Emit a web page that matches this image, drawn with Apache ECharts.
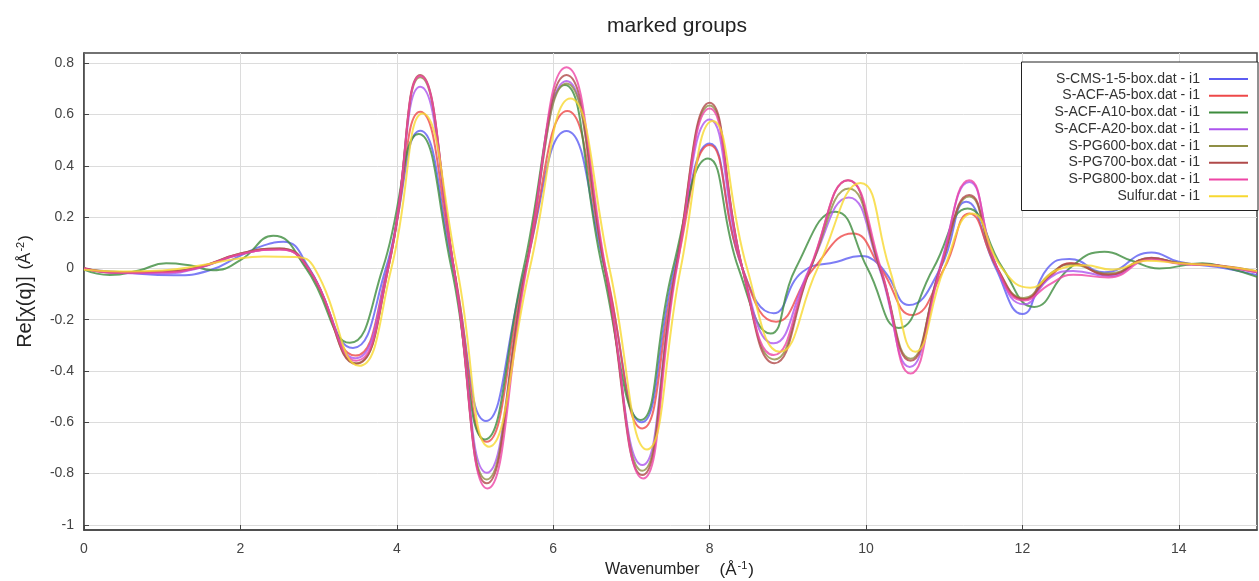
<!DOCTYPE html>
<html>
<head>
<meta charset="utf-8">
<title>marked groups</title>
<script src="https://cdn.jsdelivr.net/npm/echarts@6/dist/echarts.min.js"></script>
<style>
  html, body { margin: 0; padding: 0; background: #fff; }
  #main { width: 1259px; height: 581px; }
</style>
</head>
<body>
<div id="main"></div>
<script>
var myChart = echarts.init(document.getElementById('main'));

// tick positions
var xTicks = [0, 2, 4, 6, 8, 10, 12, 14];
var yTicks = [-1, -0.8, -0.6, -0.4, -0.2, 0, 0.2, 0.4, 0.6, 0.8];

// series names (legend order)
var names = [
	'S-CMS-1-5-box.dat - i1',
	'S-ACF-A5-box.dat - i1',
	'S-ACF-A10-box.dat - i1',
	'S-ACF-A20-box.dat - i1',
	'S-PG600-box.dat - i1',
	'S-PG700-box.dat - i1',
	'S-PG800-box.dat - i1',
	'Sulfur.dat - i1'
];
var colors = ['#5c5cf2', '#ee4848', '#3d8c3d', '#ac55ee', '#8f8f45', '#b04a4a', '#ee45a5', '#f7d830'];

// [k, Re chi(q)]
var cms15 = [[0, -0.003], [0.5, -0.015], [1.15, -0.027], [1.6, -0.008], [2.0, 0.05], [2.3, 0.09], [2.55, 0.104], [2.88, 0.0], [3.44, -0.31], [3.86, 0], [4.3, 0.537], [4.72, 0], [5.14, -0.595], [5.64, 0], [6.17, 0.536], [6.66, 0], [7.13, -0.6], [7.55, 0], [8.0, 0.487], [8.42, 0], [8.82, -0.175], [9.19, -0.013], [9.63, 0.026], [9.93, 0.048], [10.1, 0.032], [10.26, -0.02], [10.55, -0.143], [10.95, 0], [11.28, 0.26], [11.66, 0], [12.0, -0.178], [12.32, 0], [12.6, 0.037], [13.05, -0.015], [13.65, 0.062], [14.0, 0.026], [14.5, 0.005], [15.0, -0.026]];
var acfA5 = [[0, 0], [0.45, -0.018], [1.0, -0.014], [1.45, 0.003], [2.0, 0.055], [2.5, 0.075], [2.86, 0], [3.47, -0.34], [3.88, 0], [4.3, 0.611], [4.73, 0], [5.15, -0.676], [5.65, 0], [6.18, 0.614], [6.67, 0], [7.14, -0.624], [7.57, 0], [8.0, 0.481], [8.42, 0], [8.85, -0.208], [9.33, 0], [9.83, 0.136], [10.19, 0], [10.59, -0.182], [11.0, 0], [11.32, 0.214], [11.68, 0], [12.02, -0.12], [12.36, -0.03], [12.62, 0.02], [13.1, -0.025], [13.65, 0.04], [14.0, 0.02], [14.5, 0.01], [15.0, -0.015]];
var acfA10 = [[0, -0.005], [0.33, -0.026], [0.7, -0.008], [1.05, 0.02], [1.35, 0.012], [1.65, -0.007], [2.0, 0.032], [2.42, 0.127], [2.84, 0], [3.4, -0.29], [3.82, 0], [4.28, 0.524], [4.7, 0], [5.13, -0.667], [5.62, 0], [6.15, 0.715], [6.63, 0], [7.12, -0.591], [7.53, 0], [7.98, 0.429], [8.37, 0], [8.78, -0.254], [9.1, 0], [9.61, 0.221], [10.02, 0], [10.42, -0.232], [10.86, 0], [11.3, 0.234], [11.75, 0], [12.15, -0.15], [12.6, 0], [13.05, 0.065], [13.4, 0.03], [13.75, 0.0], [14.3, 0.02], [14.65, 0.0], [15.0, -0.033]];
var acfA20 = [[0, 0], [0.45, -0.018], [1.0, -0.02], [1.45, 0.0], [2.0, 0.055], [2.5, 0.075], [2.87, 0], [3.47, -0.35], [3.88, 0], [4.3, 0.708], [4.73, 0], [5.15, -0.797], [5.65, 0], [6.17, 0.731], [6.66, 0], [7.14, -0.767], [7.57, 0], [8.0, 0.581], [8.42, 0], [8.82, -0.292], [9.28, 0], [9.78, 0.277], [10.17, 0], [10.56, -0.384], [10.94, 0], [11.32, 0.337], [11.68, 0], [12.02, -0.14], [12.36, -0.035], [12.65, -0.01], [13.1, -0.03], [13.65, 0.04], [14.0, 0.02], [14.5, 0.01], [15.0, -0.015]];
var pg600 = [[0, 0], [0.45, -0.016], [1.0, -0.012], [1.45, 0.003], [2.0, 0.058], [2.5, 0.078], [2.87, 0], [3.48, -0.37], [3.89, 0], [4.3, 0.745], [4.73, 0], [5.15, -0.823], [5.65, 0], [6.17, 0.721], [6.66, 0], [7.14, -0.789], [7.57, 0], [8.0, 0.635], [8.42, 0], [8.83, -0.355], [9.29, 0], [9.78, 0.312], [10.18, 0], [10.57, -0.352], [10.95, 0], [11.32, 0.28], [11.68, 0], [12.02, -0.115], [12.36, -0.02], [12.62, 0.015], [13.1, -0.02], [13.65, 0.04], [14.0, 0.022], [14.5, 0.01], [15.0, -0.012]];
var pg700 = [[0, 0.002], [0.45, -0.015], [1.0, -0.012], [1.45, 0.004], [2.0, 0.058], [2.5, 0.078], [2.87, 0], [3.48, -0.372], [3.89, 0], [4.3, 0.754], [4.73, 0], [5.15, -0.838], [5.65, 0], [6.17, 0.754], [6.66, 0], [7.14, -0.806], [7.57, 0], [8.0, 0.646], [8.42, 0], [8.83, -0.37], [9.29, 0], [9.77, 0.344], [10.18, 0], [10.57, -0.36], [10.95, 0], [11.32, 0.286], [11.68, 0], [12.02, -0.12], [12.36, -0.025], [12.62, 0.02], [13.1, -0.025], [13.65, 0.042], [14.0, 0.02], [14.5, 0.012], [15.0, -0.012]];
var pg800 = [[0, 0], [0.45, -0.017], [1.0, -0.015], [1.45, 0.002], [2.0, 0.056], [2.5, 0.074], [2.87, 0], [3.48, -0.36], [3.89, 0], [4.3, 0.75], [4.73, 0], [5.16, -0.858], [5.66, 0], [6.17, 0.784], [6.67, 0], [7.15, -0.819], [7.58, 0], [8.0, 0.624], [8.42, 0], [8.82, -0.338], [9.28, 0], [9.77, 0.344], [10.19, 0], [10.57, -0.41], [10.95, 0], [11.32, 0.344], [11.68, 0], [12.02, -0.125], [12.36, -0.06], [12.65, -0.025], [13.1, -0.035], [13.65, 0.035], [14.0, 0.018], [14.5, 0.01], [15.0, -0.015]];
var sulfur = [[0, -0.005], [0.5, -0.012], [1.0, -0.008], [1.5, 0.012], [2.0, 0.04], [2.3, 0.046], [2.7, 0.045], [2.95, 0], [3.52, -0.38], [3.93, 0], [4.33, 0.604], [4.77, 0], [5.18, -0.695], [5.7, 0], [6.22, 0.663], [6.72, 0], [7.2, -0.706], [7.63, 0], [8.04, 0.575], [8.48, 0], [8.9, -0.325], [9.38, 0], [9.93, 0.333], [10.3, 0], [10.63, -0.325], [11.0, 0], [11.36, 0.214], [11.74, 0], [12.1, -0.075], [12.45, -0.005], [12.8, 0.012], [13.15, -0.005], [13.6, 0.03], [14.0, 0.02], [14.5, 0.01], [15.0, -0.01]];

var allData = [cms15, acfA5, acfA10, acfA20, pg600, pg700, pg800, sulfur];

var fontFam = '"Liberation Sans", Arial, sans-serif';

var series = names.map(function(name, i) {
	return {
		name: name,
		type: 'line',
		data: allData[i],
		symbol: 'none',
		smooth: 0.5,
		color: colors[i],
		lineStyle: {
			width: 2,
			opacity: 0.8
		}
	};
});

var nameRich = {
	a: { fontFamily: fontFam, fontSize: 16, color: '#222' },
	b: { fontFamily: fontFam, fontSize: 17, color: '#222' },
	s: { fontFamily: fontFam, fontSize: 11, color: '#222', verticalAlign: 'top', padding: [0, 1, 7, 1] }
};

var option = {
	backgroundColor: '#fff',
	animation: false,
	title: {
		text: 'marked groups',
		left: 672,
		textAlign: 'center',
		top: 11,
		textStyle: {
			fontFamily: fontFam,
			fontSize: 21,
			fontWeight: 'normal',
			color: '#222'
		}
	},
	legend: {
		data: names,
		orient: 'vertical',
		align: 'right',
		right: 1,
		top: 62,
		padding: [8.5, 10, 6, 33],
		itemGap: 0,
		itemWidth: 39,
		itemHeight: 2,
		icon: 'rect',
		backgroundColor: '#fff',
		borderColor: '#222',
		borderWidth: 1,
		borderRadius: 0,
		textStyle: {
			fontFamily: fontFam,
			fontSize: 14,
			color: '#333',
			lineHeight: 16.75,
			padding: [0, 4, 0, 0]
		}
	},
	grid: {
		left: 84,
		right: 2,
		top: 53,
		bottom: 51,
		outerBoundsMode: 'none',
		show: true,
		borderColor: '#444',
		borderWidth: 1.5
	},
	xAxis: {
		type: 'value',
		min: 0,
		max: 15,
		name: '{a|Wavenumber}      {b|(Å}{s|-1}{b|)}',
		nameLocation: 'middle',
		nameGap: 28,
		nameTextStyle: {
			padding: [0, 0, 0, 18],
			rich: nameRich
		},
		axisLine: { onZero: false, lineStyle: { color: '#444', width: 1.5 } },
		axisTick: { inside: true, length: 5, customValues: xTicks, lineStyle: { color: '#444' } },
		axisLabel: {
			customValues: xTicks,
			margin: 12,
			fontFamily: fontFam,
			fontSize: 14,
			color: '#444'
		},
		splitLine: { show: true, lineStyle: { color: '#dcdcdc', width: 1 } }
	},
	yAxis: {
		type: 'value',
		min: -1.02,
		max: 0.84,
		name: '{r|Re[χ(q)]}  {b|(Å}{s|-2}{b|)}',
		nameLocation: 'middle',
		nameGap: 49,
		nameTextStyle: {
			rich: {
				r: { fontFamily: fontFam, fontSize: 20, color: '#222' },
				b: nameRich.b,
				s: nameRich.s
			}
		},
		axisLine: { show: true, onZero: false, lineStyle: { color: '#444', width: 1.5 } },
		axisTick: { show: true, inside: true, length: 5, customValues: yTicks, lineStyle: { color: '#444' } },
		axisLabel: {
			customValues: yTicks,
			margin: 10,
			fontFamily: fontFam,
			fontSize: 14,
			color: '#444'
		},
		splitLine: { show: true, lineStyle: { color: '#dcdcdc', width: 1 } }
	},
	series: series
};

myChart.setOption(option);
</script>
</body>
</html>
